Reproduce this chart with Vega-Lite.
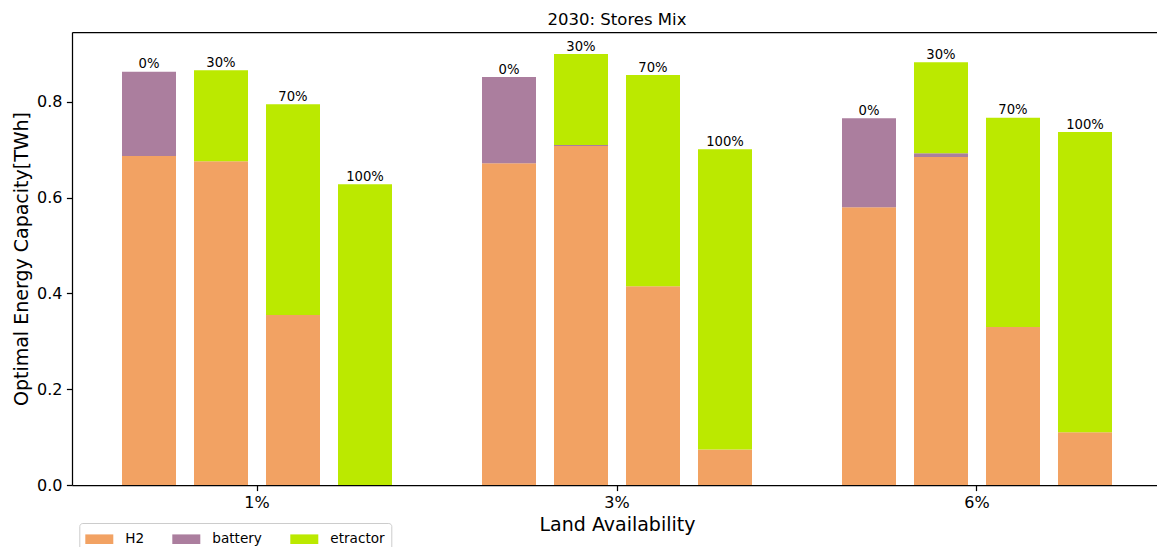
{
  "$schema": "https://vega.github.io/schema/vega-lite/v6.json",
  "autosize": {"type": "none"},
  "padding": {"left": 72, "top": 32, "right": 0, "bottom": 62},
  "width": 1085,
  "height": 453,
  "background": "white",
  "title": {
    "text": "2030: Stores Mix",
    "font": "DejaVu Sans",
    "fontSize": 16.5,
    "fontWeight": "normal",
    "color": "black",
    "anchor": "middle",
    "baseline": "alphabetic",
    "offset": -9,
    "dx": 2.5
  },
  "config": {
    "view": {"stroke": null},
    "font": "DejaVu Sans",
    "axis": {
      "labelFont": "DejaVu Sans",
      "titleFont": "DejaVu Sans",
      "labelColor": "black",
      "titleColor": "black",
      "tickColor": "black",
      "domainColor": "black",
      "domainWidth": 1.25,
      "tickWidth": 1.25,
      "labelFontSize": 16,
      "titleFontSize": 19,
      "titleFontWeight": "normal",
      "tickSize": 5.6,
      "grid": false
    },
    "legend": {
      "labelFont": "DejaVu Sans"
    }
  },
  "data": {
    "values": [
      {"group": "1%", "scenario": "0%", "tech": "H2", "value": 0.687},
      {"group": "1%", "scenario": "0%", "tech": "battery", "value": 0.176},
      {"group": "1%", "scenario": "30%", "tech": "H2", "value": 0.676},
      {"group": "1%", "scenario": "30%", "tech": "etractor", "value": 0.190},
      {"group": "1%", "scenario": "70%", "tech": "H2", "value": 0.355},
      {"group": "1%", "scenario": "70%", "tech": "etractor", "value": 0.440},
      {"group": "1%", "scenario": "100%", "tech": "etractor", "value": 0.628},
      {"group": "3%", "scenario": "0%", "tech": "H2", "value": 0.672},
      {"group": "3%", "scenario": "0%", "tech": "battery", "value": 0.180},
      {"group": "3%", "scenario": "30%", "tech": "H2", "value": 0.708},
      {"group": "3%", "scenario": "30%", "tech": "battery", "value": 0.002},
      {"group": "3%", "scenario": "30%", "tech": "etractor", "value": 0.190},
      {"group": "3%", "scenario": "70%", "tech": "H2", "value": 0.415},
      {"group": "3%", "scenario": "70%", "tech": "etractor", "value": 0.441},
      {"group": "3%", "scenario": "100%", "tech": "H2", "value": 0.074},
      {"group": "3%", "scenario": "100%", "tech": "etractor", "value": 0.627},
      {"group": "6%", "scenario": "0%", "tech": "H2", "value": 0.580},
      {"group": "6%", "scenario": "0%", "tech": "battery", "value": 0.186},
      {"group": "6%", "scenario": "30%", "tech": "H2", "value": 0.685},
      {"group": "6%", "scenario": "30%", "tech": "battery", "value": 0.008},
      {"group": "6%", "scenario": "30%", "tech": "etractor", "value": 0.190},
      {"group": "6%", "scenario": "70%", "tech": "H2", "value": 0.330},
      {"group": "6%", "scenario": "70%", "tech": "etractor", "value": 0.437},
      {"group": "6%", "scenario": "100%", "tech": "H2", "value": 0.110},
      {"group": "6%", "scenario": "100%", "tech": "etractor", "value": 0.627}
    ]
  },
  "encoding": {
    "x": {
      "field": "group",
      "type": "nominal",
      "sort": ["1%", "3%", "6%"],
      "scale": {"range": [0, 1090], "paddingInner": 0, "paddingOuter": 0.013889}
    },
    "xOffset": {
      "field": "scenario",
      "type": "nominal",
      "sort": ["0%", "30%", "70%", "100%"],
      "scale": {"paddingInner": 0.25, "paddingOuter": 0.625}
    }
  },
  "layer": [
    {
      "mark": {"type": "bar", "stroke": null},
      "encoding": {
        "x": {
          "field": "group",
          "type": "nominal",
          "sort": ["1%", "3%", "6%"],
          "scale": {"range": [0, 1090], "paddingInner": 0, "paddingOuter": 0.013889},
          "axis": {
            "title": "Land Availability",
            "labelAngle": 0,
            "labelPadding": 4,
            "titlePadding": 5
          }
        },
        "y": {
          "field": "value",
          "type": "quantitative",
          "aggregate": "sum",
          "stack": "zero",
          "scale": {"domain": [0, 0.946], "nice": false, "zero": true},
          "axis": {
            "title": "Optimal Energy Capacity[TWh]",
            "values": [0, 0.2, 0.4, 0.6, 0.8],
            "format": ".1f",
            "labelPadding": 4.5,
            "titlePadding": 5
          }
        },
        "order": {"field": "tech", "type": "nominal", "sort": "ascending"},
        "color": {
          "field": "tech",
          "type": "nominal",
          "scale": {
            "domain": ["H2", "battery", "etractor"],
            "range": ["#f2a263", "#ab7e9e", "#bbe900"]
          },
          "legend": {
            "title": null,
            "orient": "none",
            "direction": "horizontal",
            "legendX": 7.3,
            "legendY": 491,
            "symbolType": "M-1,-0.48H1.8V0.48H-1Z",
            "symbolSize": 400,
            "symbolStrokeWidth": 0,
            "symbolOpacity": 1,
            "labelFontSize": 13.6,
            "labelColor": "black",
            "labelOffset": 20,
            "columnPadding": 28,
            "padding": 6,
            "strokeColor": "#cccccc",
            "fillColor": "white",
            "cornerRadius": 3
          }
        }
      }
    },
    {
      "transform": [
        {"aggregate": [{"op": "sum", "field": "value", "as": "total"}], "groupby": ["group", "scenario"]}
      ],
      "mark": {
        "type": "text",
        "baseline": "alphabetic",
        "align": "center",
        "dy": -3.5,
        "fontSize": 13.2,
        "font": "DejaVu Sans",
        "color": "black"
      },
      "encoding": {
        "x": {
          "field": "group",
          "type": "nominal",
          "sort": ["1%", "3%", "6%"],
          "scale": {"range": [0, 1090], "paddingInner": 0, "paddingOuter": 0.013889},
          "axis": {
            "orient": "top",
            "labels": false,
            "ticks": false,
            "title": null,
            "domain": true
          }
        },
        "y": {"field": "total", "type": "quantitative", "axis": null},
        "text": {"field": "scenario", "type": "nominal"}
      }
    }
  ],
  "resolve": {"axis": {"x": "independent", "y": "independent"}}
}
